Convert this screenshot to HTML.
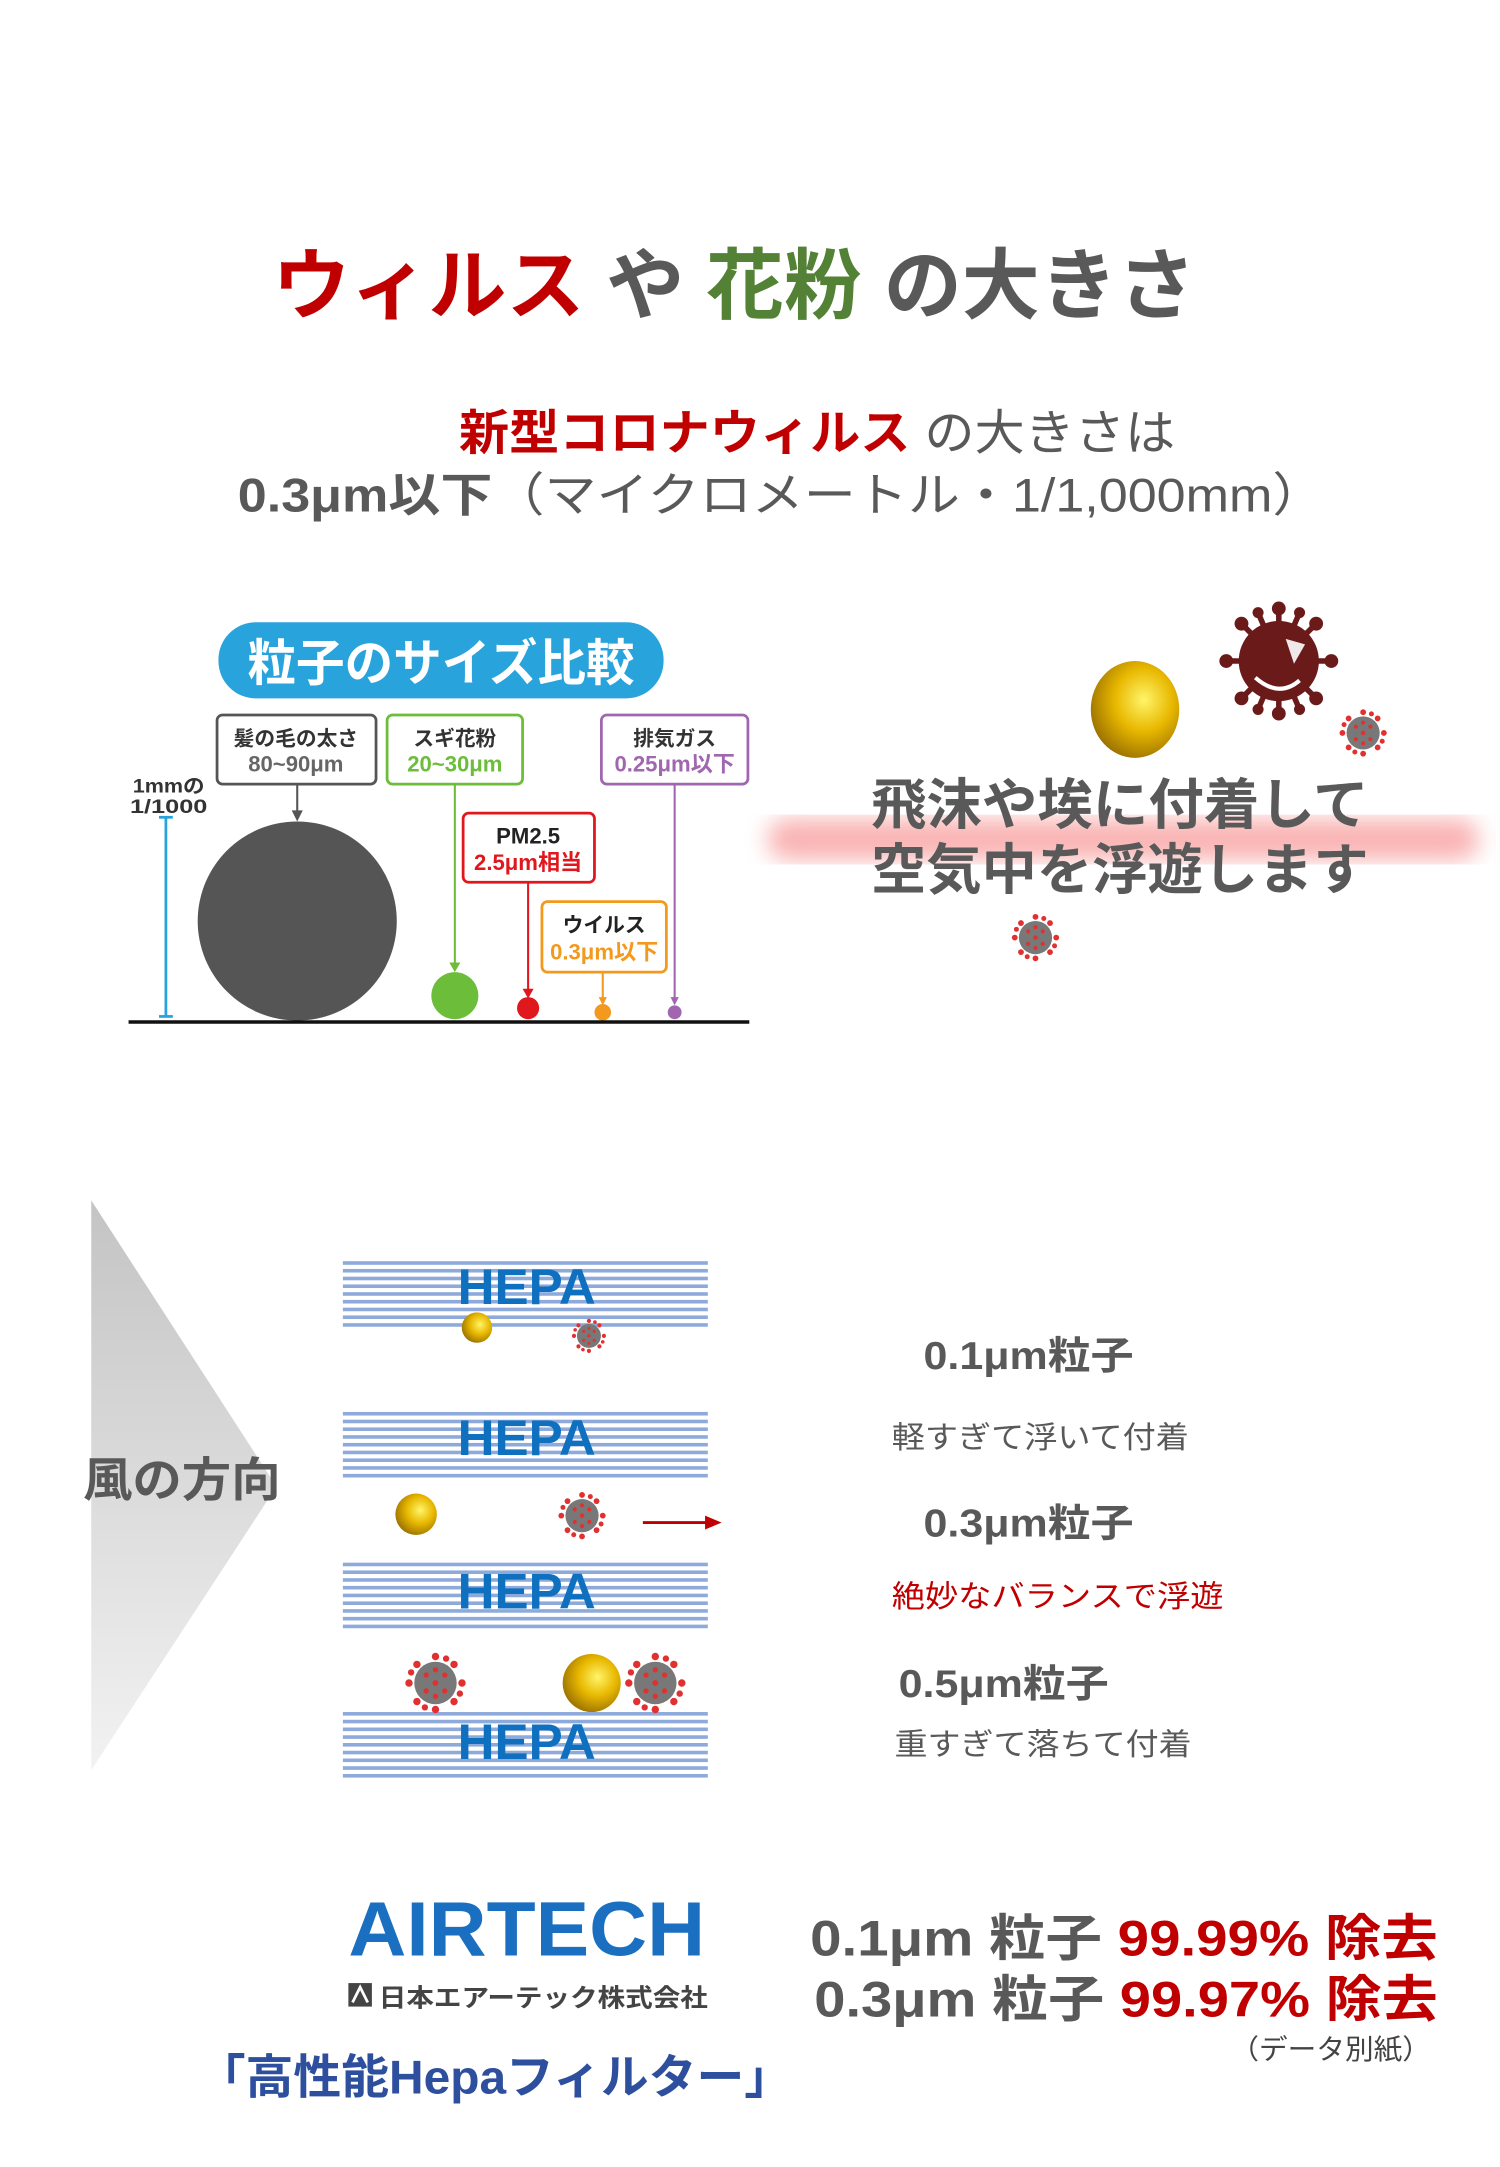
<!DOCTYPE html>
<html><head><meta charset="utf-8"><style>
html,body{margin:0;padding:0;background:#fff;width:1500px;height:2167px;overflow:hidden}
svg{display:block}
text{font-family:"Liberation Sans","Noto Sans CJK JP",sans-serif}
</style></head><body>
<svg width="1500" height="2167" viewBox="0 0 1085 1567" preserveAspectRatio="none" xmlns="http://www.w3.org/2000/svg">
<defs>
<radialGradient id="gold" cx="0.6" cy="0.4" r="0.65">
<stop offset="0" stop-color="#fff56a"/><stop offset="0.5" stop-color="#e8b800"/><stop offset="1" stop-color="#9a7000"/>
</radialGradient>
<linearGradient id="tri" x1="0" y1="0" x2="0" y2="1">
<stop offset="0" stop-color="#c4c4c4"/><stop offset="1" stop-color="#f2f2f2"/>
</linearGradient>
<filter id="blur"><feGaussianBlur stdDeviation="8"/></filter>
<symbol id="vir" viewBox="-12 -12 24 24">
<circle r="8" fill="#787878"/>
<g fill="#e03030">
<circle cx="0" cy="-10" r="1.4"/><circle cx="0" cy="10" r="1.4"/><circle cx="-10" cy="0" r="1.4"/><circle cx="10" cy="0" r="1.4"/>
<circle cx="7" cy="-7" r="1.4"/><circle cx="-7" cy="-7" r="1.4"/><circle cx="7" cy="7" r="1.4"/><circle cx="-7" cy="7" r="1.4"/>
<circle cx="4" cy="-9.2" r="1.2"/><circle cx="-4" cy="9.2" r="1.2"/><circle cx="9.2" cy="4" r="1.2"/><circle cx="-9.2" cy="-4" r="1.2"/>
<circle cx="0" cy="0" r="1.1"/><circle cx="3.5" cy="-3" r="1"/><circle cx="-3.5" cy="3" r="1"/><circle cx="-3.5" cy="-3" r="1"/><circle cx="3.5" cy="3" r="1"/><circle cx="0" cy="-5" r="1"/><circle cx="0" cy="5" r="1"/>
</g>
</symbol>
<g id="hepa">
<g fill="#8eaadb">
<rect x="0" y="0" width="264" height="2.6"/><rect x="0" y="5.6" width="264" height="2.6"/><rect x="0" y="11.2" width="264" height="2.6"/><rect x="0" y="16.8" width="264" height="2.6"/><rect x="0" y="22.4" width="264" height="2.6"/><rect x="0" y="28" width="264" height="2.6"/><rect x="0" y="33.6" width="264" height="2.6"/><rect x="0" y="39.2" width="264" height="2.6"/><rect x="0" y="44.8" width="264" height="2.6"/>
</g>
</g>
</defs>

<text x="197" y="226" font-size="56" font-weight="bold" textLength="668" lengthAdjust="spacingAndGlyphs"><tspan fill="#c00000">ウィルス</tspan><tspan fill="#595959"> や </tspan><tspan fill="#538135">花粉</tspan><tspan fill="#595959"> の大きさ</tspan></text>

<text x="332" y="325" font-size="35" textLength="518" lengthAdjust="spacingAndGlyphs"><tspan fill="#c00000" font-weight="bold">新型コロナウィルス</tspan><tspan fill="#595959"> の大きさは</tspan></text>
<text x="172" y="370" font-size="34" fill="#595959" textLength="786" lengthAdjust="spacingAndGlyphs"><tspan font-weight="bold">0.3μm以下</tspan>（マイクロメートル・1/1,000mm）</text>

<rect x="158" y="450" width="322" height="55" rx="27" fill="#29a3dc"/>
<text x="319" y="492" font-size="36" font-weight="bold" fill="#fff" text-anchor="middle" textLength="280" lengthAdjust="spacingAndGlyphs">粒子のサイズ比較</text>

<g fill="#fff" stroke-width="2">
<rect x="157" y="517" width="115" height="50" rx="4" stroke="#555"/>
<rect x="280" y="517" width="98" height="50" rx="4" stroke="#6cbd3a"/>
<rect x="435" y="517" width="106" height="50" rx="4" stroke="#a066b0"/>
<rect x="335" y="588" width="95" height="50" rx="4" stroke="#e0181e"/>
<rect x="392" y="652" width="90" height="51" rx="4" stroke="#f39a1e"/>
</g>
<g font-weight="bold" text-anchor="middle">
<text x="214" y="539" font-size="15" fill="#333">髪の毛の太さ</text>
<text x="214" y="558" font-size="16" fill="#666">80~90μm</text>
<text x="329" y="539" font-size="15" fill="#333">スギ花粉</text>
<text x="329" y="558" font-size="16" fill="#6cbd3a">20~30μm</text>
<text x="488" y="539" font-size="15" fill="#333">排気ガス</text>
<text x="488" y="558" font-size="16" fill="#a066b0">0.25μm以下</text>
<text x="382" y="610" font-size="16" fill="#222">PM2.5</text>
<text x="382" y="629" font-size="16" fill="#e0181e">2.5μm相当</text>
<text x="437" y="674" font-size="15" fill="#222">ウイルス</text>
<text x="437" y="694" font-size="16" fill="#f39a1e">0.3μm以下</text>
</g>
<text x="96" y="573" font-size="14" font-weight="bold" fill="#333" textLength="52" lengthAdjust="spacingAndGlyphs">1mmの</text>
<text x="94" y="588" font-size="14" font-weight="bold" fill="#333" textLength="56" lengthAdjust="spacingAndGlyphs">1/1000</text>
<g stroke="#29a3dc" stroke-width="2"><line x1="120" y1="591" x2="120" y2="735"/><line x1="115" y1="591" x2="125" y2="591"/><line x1="115" y1="735" x2="125" y2="735"/></g>
<ellipse cx="215" cy="666" rx="72" ry="72" fill="#555"/>
<g stroke-width="1.5">
<line x1="215" y1="567" x2="215" y2="590" stroke="#555"/>
<line x1="329" y1="567" x2="329" y2="698" stroke="#6cbd3a"/>
<line x1="382" y1="638" x2="382" y2="718" stroke="#e0181e"/>
<line x1="436" y1="703" x2="436" y2="724" stroke="#f39a1e"/>
<line x1="488" y1="567" x2="488" y2="725" stroke="#a066b0"/>
</g>
<polygon points="211,586 219,586 215,594" fill="#555"/>
<polygon points="325,696 333,696 329,703" fill="#6cbd3a"/>
<polygon points="378,715 386,715 382,722" fill="#e0181e"/>
<polygon points="433,721 439,721 436,727" fill="#f39a1e"/>
<polygon points="485,721 491,721 488,727" fill="#a066b0"/>
<circle cx="329" cy="720" r="17" fill="#6cbd3a"/>
<circle cx="382" cy="729" r="8" fill="#e0181e"/>
<circle cx="436" cy="732" r="6" fill="#f39a1e"/>
<circle cx="488" cy="732" r="5" fill="#a066b0"/>
<line x1="93" y1="739" x2="542" y2="739" stroke="#111" stroke-width="2.5"/>

<rect x="555" y="592" width="515" height="30" rx="15" fill="#f8a0a0" filter="url(#blur)" opacity="0.8"/>
<ellipse cx="821" cy="513" rx="32" ry="35" fill="url(#gold)"/>
<g fill="#6b1a1a">
<circle cx="925" cy="478" r="29"/>
<g stroke="#6b1a1a" stroke-width="4">
<line x1="925" y1="440" x2="925" y2="516"/><line x1="887" y1="478" x2="963" y2="478"/><line x1="898" y1="451" x2="952" y2="505"/><line x1="952" y1="451" x2="898" y2="505"/>
<line x1="910" y1="443" x2="940" y2="513"/><line x1="940" y1="443" x2="910" y2="513"/>
</g>
<circle cx="925" cy="440" r="5"/><circle cx="925" cy="516" r="5"/><circle cx="887" cy="478" r="5"/><circle cx="963" cy="478" r="5"/>
<circle cx="898" cy="451" r="5"/><circle cx="952" cy="505" r="5"/><circle cx="952" cy="451" r="5"/><circle cx="898" cy="505" r="5"/>
<circle cx="910" cy="443" r="4"/><circle cx="940" cy="513" r="4"/><circle cx="940" cy="443" r="4"/><circle cx="910" cy="513" r="4"/>
</g>
<path d="M930 462 L944 466 L936 480 Z" fill="#fff" opacity="0.9"/>
<path d="M908 490 Q925 505 940 492" stroke="#fff" stroke-width="3" fill="none"/>
<use href="#vir" x="968" y="512" width="36" height="36"/>
<use href="#vir" x="731" y="660" width="36" height="36"/>
<text x="630" y="596" font-size="40" font-weight="bold" fill="#595959" textLength="360" lengthAdjust="spacingAndGlyphs">飛沫や埃に付着して</text>
<text x="630" y="643" font-size="40" font-weight="bold" fill="#595959" textLength="360" lengthAdjust="spacingAndGlyphs">空気中を浮遊します</text>

<polygon points="66,868 200,1075 66,1280" fill="url(#tri)"/>
<text x="60" y="1082" font-size="34" font-weight="bold" fill="#595959" textLength="143" lengthAdjust="spacingAndGlyphs">風の方向</text>

<use href="#hepa" x="248" y="912"/>
<use href="#hepa" x="248" y="1021"/>
<use href="#hepa" x="248" y="1130"/>
<use href="#hepa" x="248" y="1238"/>
<g font-size="36" font-weight="bold" fill="#1070c0" text-anchor="middle">
<text x="381" y="943" textLength="100" lengthAdjust="spacingAndGlyphs">HEPA</text>
<text x="381" y="1052" textLength="100" lengthAdjust="spacingAndGlyphs">HEPA</text>
<text x="381" y="1163" textLength="100" lengthAdjust="spacingAndGlyphs">HEPA</text>
<text x="381" y="1272" textLength="100" lengthAdjust="spacingAndGlyphs">HEPA</text>
</g>
<circle cx="345" cy="960" r="11" fill="url(#gold)"/>
<use href="#vir" x="413" y="953" width="26" height="26"/>
<circle cx="301" cy="1095" r="15" fill="url(#gold)"/>
<use href="#vir" x="403" y="1078" width="36" height="36"/>
<line x1="465" y1="1101" x2="512" y2="1101" stroke="#c00000" stroke-width="2"/>
<polygon points="510,1096 522,1101 510,1106" fill="#c00000"/>
<use href="#vir" x="292" y="1194" width="46" height="46"/>
<circle cx="428" cy="1217" r="21" fill="url(#gold)"/>
<use href="#vir" x="451" y="1194" width="46" height="46"/>

<g fill="#595959">
<text x="668" y="990" font-size="28" font-weight="bold" textLength="152" lengthAdjust="spacingAndGlyphs">0.1μm粒子</text>
<text x="645" y="1047" font-size="22" textLength="215" lengthAdjust="spacingAndGlyphs">軽すぎて浮いて付着</text>
<text x="668" y="1111" font-size="28" font-weight="bold" textLength="152" lengthAdjust="spacingAndGlyphs">0.3μm粒子</text>
<text x="645" y="1162" font-size="22" fill="#c00000" textLength="240" lengthAdjust="spacingAndGlyphs">絶妙なバランスで浮遊</text>
<text x="650" y="1227" font-size="28" font-weight="bold" textLength="152" lengthAdjust="spacingAndGlyphs">0.5μm粒子</text>
<text x="647" y="1269" font-size="22" textLength="215" lengthAdjust="spacingAndGlyphs">重すぎて落ちて付着</text>
</g>

<text x="252" y="1414" font-size="56" font-weight="bold" fill="#1a6fc0" textLength="258" lengthAdjust="spacingAndGlyphs">AIRTECH</text>
<rect x="252" y="1434" width="17" height="17" fill="#444"/>
<path d="M255 1448 L260.5 1437 L266 1448" stroke="#fff" stroke-width="2" fill="none"/>
<text x="274" y="1451" font-size="18" font-weight="bold" fill="#444" textLength="238" lengthAdjust="spacingAndGlyphs">日本エアーテック株式会社</text>
<text x="143" y="1514" font-size="34" font-weight="bold" fill="#2e4f9e" textLength="430" lengthAdjust="spacingAndGlyphs">「高性能Hepaフィルター」</text>
<text x="586" y="1414" font-size="36" font-weight="bold" textLength="454" lengthAdjust="spacingAndGlyphs"><tspan fill="#595959">0.1μm 粒子 </tspan><tspan fill="#c00000">99.99% 除去</tspan></text>
<text x="589" y="1458" font-size="36" font-weight="bold" textLength="451" lengthAdjust="spacingAndGlyphs"><tspan fill="#595959">0.3μm 粒子 </tspan><tspan fill="#c00000">99.97% 除去</tspan></text>
<text x="890" y="1489" font-size="20" fill="#444" textLength="145" lengthAdjust="spacingAndGlyphs">（データ別紙）</text>
</svg>
</body></html>
